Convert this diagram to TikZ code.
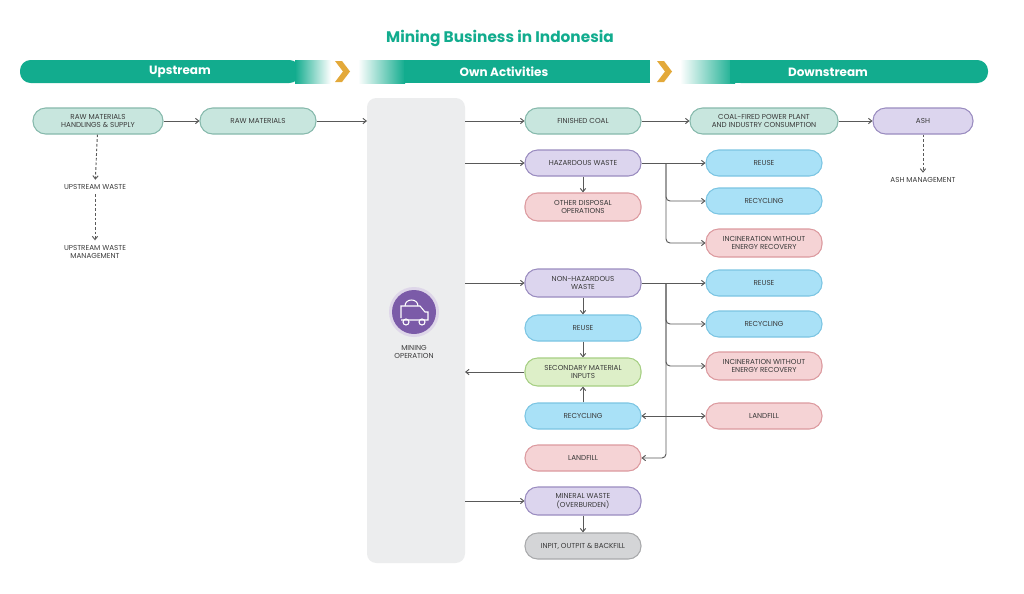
\documentclass[tikz,border=0pt]{standalone}
\usepackage{fontspec}
\setmainfont{Poppins}
\usetikzlibrary{arrows.meta}
\definecolor{teal1}{HTML}{12AC8E}
\definecolor{gold}{HTML}{E3A93A}
\definecolor{tealL}{HTML}{C8E6DE}\definecolor{tealB}{HTML}{86B9AC}
\definecolor{lavL}{HTML}{DCD5EE}\definecolor{lavB}{HTML}{9A8CC0}
\definecolor{pinkL}{HTML}{F5D3D5}\definecolor{pinkB}{HTML}{DC9A9F}
\definecolor{blueL}{HTML}{A9E1F7}\definecolor{blueB}{HTML}{7CC5E3}
\definecolor{grnL}{HTML}{DDEFC8}\definecolor{grnB}{HTML}{A6CF83}
\definecolor{grayL}{HTML}{D4D5D7}\definecolor{grayB}{HTML}{A8A9AB}
\definecolor{txt}{HTML}{3A3A3A}
\definecolor{panel}{HTML}{ECEDEE}
\definecolor{purp}{HTML}{7B5BA8}
\begin{document}
\begin{tikzpicture}[x=0.75pt,y=-0.75pt,
  box/.style={rounded corners=9.5pt,draw=#1B,fill=#1L,line width=0.8pt,minimum height=19.5pt,align=center,font=\fontsize{5.4}{6.6}\selectfont,text=txt,inner sep=1pt},
  lbl/.style={align=center,font=\fontsize{5.4}{6.6}\selectfont,text=txt},
  con/.style={draw=black!65,line width=0.7pt,-{Straight Barb[length=2.5pt,width=4pt]}},
  dcon/.style={con,dashed,dash pattern=on 2pt off 1.5pt},
  bar/.style={font=\bfseries\fontsize{9}{10}\selectfont,text=white}]
\useasboundingbox (0,0) rectangle (1024,593);
\fill[white] (0,0) rectangle (1024,593);
\node[font=\bfseries\fontsize{11.5}{13}\selectfont,text=teal1] (title) at (500,38) {Mining Business in Indonesia};
% bars
\fill[teal1,rounded corners=8pt] (20,60) rectangle (300,83);
\shade[left color=teal1,right color=white] (295,60) rectangle (331,83);
\shade[left color=white,right color=teal1] (358,60) rectangle (405,83);
\fill[teal1] (404,60) rectangle (650,83);
\shade[left color=white,right color=teal1] (680,60) rectangle (735,83);
\fill[teal1,rounded corners=8pt] (730,60) rectangle (988,83);
\fill[teal1] (730,60) rectangle (745,83);
\fill[gold] (335,61) -- (342,61) -- (350,71.5) -- (342,82) -- (335,82) -- (343,71.5) -- cycle;
\fill[gold] (657,61) -- (664,61) -- (672,71.5) -- (664,82) -- (657,82) -- (665,71.5) -- cycle;
\node[bar] (up) at (180,72) {Upstream};
\node[bar] (own) at (504,72) {Own Activities};
\node[bar] (down) at (828,72) {Downstream};
% panel
\fill[panel,rounded corners=7pt] (367,98) rectangle (465,563);
\coordinate (pL) at (367,121);
\fill[purp!25] (414,312) circle (25);
\fill[purp] (414,312) circle (22);
\begin{scope}[white,line width=0.8pt]
\draw (401,318) -- (401,306) -- (420,306) -- (425,312) -- (428,312) -- (428,320) -- (401,320);
\draw (405,306) .. controls (405,298) and (418,298) .. (418,306);
\draw (406,322) circle (3); \draw (422,322) circle (3);
\end{scope}
\node[lbl] (mo) at (414,352) {MINING\\OPERATION};
% upstream
\node[box=teal,minimum width=97.5pt] (rmhs) at (98,121) {RAW MATERIALS\\HANDLINGS \& SUPPLY};
\node[box=teal,minimum width=87pt] (raw) at (258,121) {RAW MATERIALS};
\node[lbl] (uw) at (95,187) {UPSTREAM WASTE};
\node[lbl] (uwm) at (95,252) {UPSTREAM WASTE\\MANAGEMENT};
\draw[con] (rmhs) -- (raw);
\draw[con] (raw) -- (pL);
\draw[dcon] (rmhs) -- (uw);
\draw[dcon] (uw) -- (uwm);
% own
\node[box=teal,minimum width=87pt] (fc) at (583,121) {FINISHED COAL};
\node[box=teal,minimum width=111pt] (cf) at (764,121) {COAL-FIRED POWER PLANT\\AND INDUSTRY CONSUMPTION};
\node[box=lav,minimum width=75pt] (ash) at (923,121) {ASH};
\node[lbl] (am) at (923,180) {ASH MANAGEMENT};
\node[box=lav,minimum width=87pt] (hw) at (583,163) {HAZARDOUS WASTE};
\node[box=pink,minimum width=87pt,minimum height=21pt] (od) at (583,207) {OTHER DISPOSAL\\OPERATIONS};
\node[box=blue,minimum width=87pt] (r1) at (764,163) {REUSE};
\node[box=blue,minimum width=87pt] (c1) at (764,201) {RECYCLING};
\node[box=pink,minimum width=87pt,minimum height=21pt] (i1) at (764,243) {INCINERATION WITHOUT\\ENERGY RECOVERY};
\node[box=lav,minimum width=87pt,minimum height=21pt] (nh) at (583,283) {NON-HAZARDOUS\\WASTE};
\node[box=blue,minimum width=87pt] (r2) at (583,328) {REUSE};
\node[box=grn,minimum width=87pt,minimum height=21pt] (sm) at (583,372) {SECONDARY MATERIAL\\INPUTS};
\node[box=blue,minimum width=87pt] (c2) at (583,416) {RECYCLING};
\node[box=pink,minimum width=87pt] (l2) at (583,458) {LANDFILL};
\node[box=lav,minimum width=87pt,minimum height=21pt] (mw) at (583,501) {MINERAL WASTE\\(OVERBURDEN)};
\node[box=gray,minimum width=87pt] (ip) at (583,546) {INPIT, OUTPIT \& BACKFILL};
\node[box=blue,minimum width=87pt] (r3) at (764,283) {REUSE};
\node[box=blue,minimum width=87pt] (c3) at (764,324) {RECYCLING};
\node[box=pink,minimum width=87pt,minimum height=21pt] (i3) at (764,366) {INCINERATION WITHOUT\\ENERGY RECOVERY};
\node[box=pink,minimum width=87pt] (l3) at (764,416) {LANDFILL};
\coordinate (p1) at (465,121); \coordinate (p2) at (465,163);
\coordinate (p3) at (465,283); \coordinate (p4) at (465,372); \coordinate (p5) at (465,501);
\draw[con] (p1) -- (fc);
\draw[con] (fc) -- (cf);
\draw[con] (cf) -- (ash);
\draw[dcon] (ash) -- (am);
\draw[con] (p2) -- (hw);
\draw[con] (hw) -- (od);
\draw[con] (hw) -- (r1);
\coordinate (b1) at (666,163);
\draw[con,rounded corners=3pt] (b1) |- (c1);
\draw[con,rounded corners=3pt] (b1) |- (i1);
\draw[con] (p3) -- (nh);
\draw[con] (nh) -- (r3);
\coordinate (b2) at (666,283);
\draw[con,rounded corners=3pt] (b2) |- (c3);
\draw[con,rounded corners=3pt] (b2) |- (i3);
\draw[con,rounded corners=3pt] (b2) |- (l2);
\draw[con] (nh) -- (r2);
\draw[con] (r2) -- (sm);
\draw[con] (c2) -- (sm);
\draw[con] (sm) -- (p4);
\draw[con,{Straight Barb[length=2.5pt,width=4pt]}-{Straight Barb[length=2.5pt,width=4pt]}] (c2) -- (l3);
\draw[con] (p5) -- (mw);
\draw[con] (mw) -- (ip);
\end{tikzpicture}
\end{document}
